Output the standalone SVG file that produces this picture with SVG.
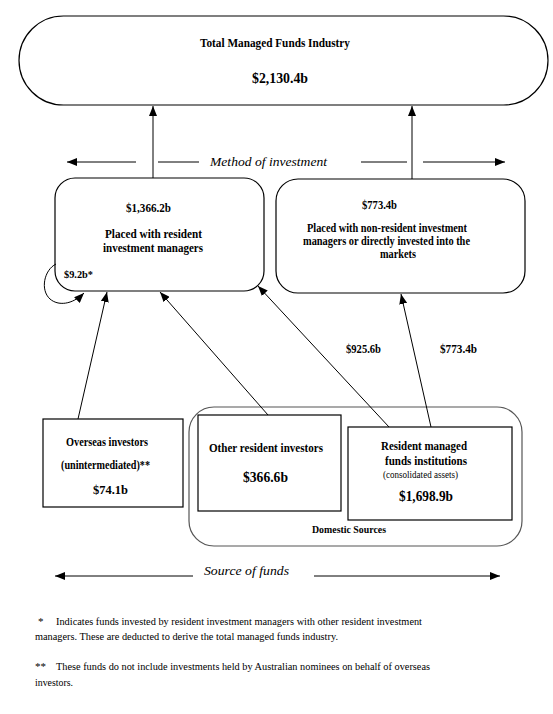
<svg xmlns="http://www.w3.org/2000/svg" width="553" height="714" viewBox="0 0 553 714">
<style>
.box{fill:#fff;stroke:#000;stroke-width:1.2}
.dom{fill:#fff;stroke:#555;stroke-width:1.2}
.ln{stroke:#000;stroke-width:1;fill:none}
.b{font-family:"Liberation Serif","Times New Roman",serif;font-weight:bold;fill:#000}
.r{font-family:"Liberation Serif","Times New Roman",serif;fill:#000}
.i{font-family:"Liberation Serif","Times New Roman",serif;font-style:italic;fill:#000}
</style>
<defs>
<marker id="ah" markerUnits="userSpaceOnUse" markerWidth="10" markerHeight="8" refX="10" refY="4" orient="auto">
<path d="M0,0 L10,4 L0,8 z" fill="#000"/>
</marker>
</defs>
<rect width="553" height="714" fill="#fff"/>

<g id="domestic-sources">
<rect class="dom" x="189" y="407" width="333" height="139" rx="25"/>
<text class="b" x="312" y="533" font-size="11" textLength="74" lengthAdjust="spacingAndGlyphs">Domestic Sources</text>
</g>

<g id="total">
<rect class="box" x="19" y="16" width="529" height="89" rx="44.5"/>
<text class="b" x="200" y="47" font-size="12.5" textLength="150" lengthAdjust="spacingAndGlyphs">Total Managed Funds Industry</text>
<text class="b" x="252" y="83" font-size="14" textLength="56" lengthAdjust="spacingAndGlyphs">$2,130.4b</text>
</g>

<g id="resident-managers">
<rect class="box" x="55" y="178" width="209" height="113" rx="20"/>
<text class="b" x="126" y="212" font-size="13" textLength="45" lengthAdjust="spacingAndGlyphs">$1,366.2b</text>
<text class="b" x="105" y="238" font-size="12.5" textLength="97" lengthAdjust="spacingAndGlyphs">Placed with resident</text>
<text class="b" x="103" y="252" font-size="12.5" textLength="100" lengthAdjust="spacingAndGlyphs">investment managers</text>
<text class="b" x="64" y="278" font-size="11" textLength="29" lengthAdjust="spacingAndGlyphs">$9.2b*</text>
</g>

<g id="non-resident">
<rect class="box" x="276" y="179" width="249" height="114" rx="22"/>
<text class="b" x="362" y="209" font-size="13" textLength="35" lengthAdjust="spacingAndGlyphs">$773.4b</text>
<text class="b" x="307" y="232" font-size="11.5" textLength="160" lengthAdjust="spacingAndGlyphs">Placed with non-resident investment</text>
<text class="b" x="303" y="245" font-size="11.5" textLength="167" lengthAdjust="spacingAndGlyphs">managers or directly invested into the</text>
<text class="b" x="380" y="257.5" font-size="11.5" textLength="36" lengthAdjust="spacingAndGlyphs">markets</text>
</g>

<g id="overseas">
<rect class="box" x="43" y="419" width="140" height="88"/>
<text class="b" x="66" y="446" font-size="11.5" textLength="82" lengthAdjust="spacingAndGlyphs">Overseas investors</text>
<text class="b" x="61" y="469" font-size="11.5" textLength="89" lengthAdjust="spacingAndGlyphs">(unintermediated)**</text>
<text class="b" x="93" y="494" font-size="13" textLength="35" lengthAdjust="spacingAndGlyphs">$74.1b</text>
</g>

<g id="other-resident">
<rect class="box" x="198" y="415" width="143" height="96"/>
<text class="b" x="209" y="452" font-size="13" textLength="114" lengthAdjust="spacingAndGlyphs">Other resident investors</text>
<text class="b" x="243" y="482" font-size="14.5" textLength="45" lengthAdjust="spacingAndGlyphs">$366.6b</text>
</g>

<g id="resident-managed">
<rect class="box" x="348" y="427" width="164" height="93"/>
<text class="b" x="381" y="450" font-size="13" textLength="86" lengthAdjust="spacingAndGlyphs">Resident managed</text>
<text class="b" x="385" y="465" font-size="12.5" textLength="82" lengthAdjust="spacingAndGlyphs">funds institutions</text>
<text class="r" x="383" y="478" font-size="9.5" textLength="75" lengthAdjust="spacingAndGlyphs">(consolidated assets)</text>
<text class="b" x="399" y="501" font-size="15" textLength="54" lengthAdjust="spacingAndGlyphs">$1,698.9b</text>
</g>

<g id="connectors">
<line class="ln" x1="153" y1="178" x2="153" y2="106" marker-end="url(#ah)"/>
<line class="ln" x1="412" y1="179" x2="412" y2="106" marker-end="url(#ah)"/>
<path class="ln" d="M56,264 C44,270 40,290 50,299 C58,306 72,305 84,293" marker-end="url(#ah)"/>
<line class="ln" x1="78" y1="419" x2="107" y2="292" marker-end="url(#ah)"/>
<line class="ln" x1="268" y1="415" x2="160" y2="292" marker-end="url(#ah)"/>
<line class="ln" x1="389" y1="427" x2="258" y2="286" marker-end="url(#ah)"/>
<line class="ln" x1="431" y1="427" x2="401" y2="294" marker-end="url(#ah)"/>
<text class="b" x="346" y="353" font-size="12.5" textLength="35" lengthAdjust="spacingAndGlyphs">$925.6b</text>
<text class="b" x="440" y="353" font-size="12.5" textLength="37" lengthAdjust="spacingAndGlyphs">$773.4b</text>
</g>

<g id="method-of-investment">
<line class="ln" x1="136" y1="162" x2="67" y2="162" marker-end="url(#ah)"/>
<line class="ln" x1="158" y1="162" x2="199" y2="162"/>
<text class="i" x="210" y="166" font-size="13" textLength="117" lengthAdjust="spacingAndGlyphs">Method of investment</text>
<line class="ln" x1="361" y1="162" x2="407" y2="162"/>
<line class="ln" x1="423" y1="162" x2="505" y2="162" marker-end="url(#ah)"/>
</g>

<g id="source-of-funds">
<line class="ln" x1="193" y1="576" x2="55" y2="576" marker-end="url(#ah)"/>
<text class="i" x="204" y="575" font-size="13" textLength="85" lengthAdjust="spacingAndGlyphs">Source of funds</text>
<line class="ln" x1="314" y1="576" x2="500" y2="576" marker-end="url(#ah)"/>
</g>

<g id="footnotes">
<text class="r" x="38" y="625" font-size="11">*</text>
<text class="r" x="56" y="625" font-size="11" textLength="366" lengthAdjust="spacingAndGlyphs">Indicates funds invested by resident investment managers with other resident investment</text>
<text class="r" x="35" y="640" font-size="11" textLength="303" lengthAdjust="spacingAndGlyphs">managers. These are deducted to derive the total managed funds industry.</text>
<text class="r" x="35" y="670" font-size="11">**</text>
<text class="r" x="56" y="670" font-size="11" textLength="374" lengthAdjust="spacingAndGlyphs">These funds do not include investments held by Australian nominees on behalf of overseas</text>
<text class="r" x="35" y="686" font-size="11" textLength="38" lengthAdjust="spacingAndGlyphs">investors.</text>
</g>
</svg>
